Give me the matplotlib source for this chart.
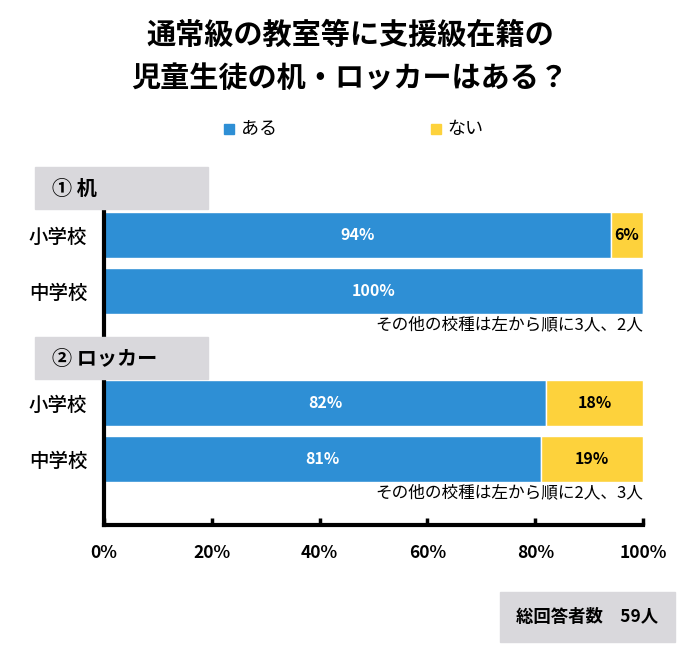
import numpy as np
import matplotlib.pyplot as plt
from matplotlib.patches import Rectangle

plt.rcParams['font.family'] = ['Noto Sans CJK JP', 'DejaVu Sans']

# data
title = '通常級の教室等に支援級在籍の\n児童生徒の机・ロッカーはある？'
series_names = ['ある', 'ない']
sections = ['① 机', '② ロッカー']
schools = ['小学校', '中学校', '小学校', '中学校']
aru = [94, 100, 82, 81]
nai = [6, 0, 18, 19]
notes = ['その他の校種は左から順に3人、2人', 'その他の校種は左から順に2人、3人']
total_label = '総回答者数　59人'
xticks = [0, 20, 40, 60, 80, 100]

blue = '#2e8fd5'
yellow = '#fdd23c'
grey = '#d9d8dc'

rows = [0, 1, 3, 4]

fig = plt.figure(figsize=(7, 6.6), dpi=100)
ax = fig.add_axes([0.1486, 0.2045, 0.77, 0.4773])

ax.barh(rows, aru, height=0.82, color=blue, edgecolor='white', linewidth=1)
ax.barh(rows, nai, left=aru, height=0.82, color=yellow, edgecolor='white', linewidth=1)

for r, a, n in zip(rows, aru, nai):
    ax.text(a / 2, r, f'{a}%', ha='center', va='center', color='white',
            fontsize=11.5, fontweight='bold')
    if n > 0:
        ax.text(a + n / 2, r, f'{n}%', ha='center', va='center', color='black',
                fontsize=11.5, fontweight='bold')

# notes under each group
for r, note in zip([1, 4], notes):
    ax.text(100, r + 0.6, note, ha='right', va='center', fontsize=12)

ax.set_xlim(0, 100)
ax.set_ylim(5.18, -0.45)
ax.set_yticks(rows)
ax.set_yticklabels(schools, fontsize=14, fontweight='medium')
ax.tick_params(axis='y', length=0, pad=12)
ax.set_xticks(xticks)
ax.set_xticklabels([f'{t}%' for t in xticks], fontsize=12.5, fontweight='bold')
ax.tick_params(axis='x', direction='in', length=5, width=2.5, pad=14)
for s in ['top', 'right']:
    ax.spines[s].set_visible(False)
ax.spines['left'].set_linewidth(3)
ax.spines['bottom'].set_linewidth(3)

# title
fig.text(0.5, 0.915, title, ha='center', va='center', fontsize=21,
         fontweight='bold', linespacing=1.55)

# legend
for x, name, c in zip([0.32, 0.615], series_names, [blue, yellow]):
    fig.patches.append(Rectangle((x, 0.797), 0.0143, 0.0152, transform=fig.transFigure,
                                 color=c))
    fig.text(x + 0.024, 0.804, name, ha='left', va='center', fontsize=13)

# section headers
for ytop, sec in zip([167, 337], sections):
    fig.patches.append(Rectangle((35 / 700, 1 - (ytop + 42) / 660), 173 / 700, 42 / 660,
                                 transform=fig.transFigure, color=grey))
    fig.text(52 / 700, 1 - (ytop + 21) / 660, sec, ha='left', va='center',
             fontsize=14.5, fontweight='bold')

# total box
fig.patches.append(Rectangle((500 / 700, 1 - 642 / 660), 175 / 700, 50 / 660,
                             transform=fig.transFigure, color=grey))
fig.text(587 / 700, 1 - 617 / 660, total_label, ha='center', va='center',
         fontsize=12.5, fontweight='bold')

plt.savefig('out.png', dpi=100)
